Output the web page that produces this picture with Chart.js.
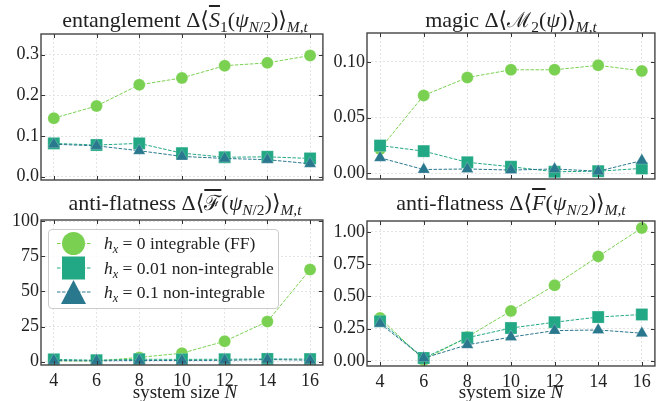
<!DOCTYPE html>
<html>
<head>
<meta charset="utf-8">
<script src="https://cdn.jsdelivr.net/npm/chart.js@4.4.1/dist/chart.umd.min.js"></script>
<style>
  body { margin: 0; background: #fff; }
  #page { position: relative; width: 664px; height: 401px; font-family: 'Liberation Serif', 'DejaVu Serif', serif; color: #222; }
  .panel { position: absolute; }
  .title { position: absolute; font-size: 22px; line-height: 22px; text-align: center; white-space: nowrap; }
  .xlabel { position: absolute; font-size: 19px; line-height: 19px; text-align: center; white-space: nowrap; }
  sub { font-size: 0.7em; vertical-align: -0.3em; line-height: 0; }
  .ov { text-decoration: overline; }
  .sym { font-family: 'DejaVu Serif', serif; font-size: 0.95em; }
  #legend { position: absolute; left: 48px; top: 229px; width: 229px; height: 78px; border: 1px solid #ccc; border-radius: 4px; background: rgba(255,255,255,0.85); }
  #legend svg { position: absolute; left: 0; top: 0; }
  .row { position: absolute; left: 55px; font-size: 17.5px; line-height: 18px; white-space: nowrap; }
</style>
</head>
<body>
<div id="page">
  <div class="panel" style="left:0;top:0;width:332px;height:200px"><canvas id="entanglementChart"></canvas></div>
  <div class="panel" style="left:332px;top:0;width:332px;height:200px"><canvas id="magicChart"></canvas></div>
  <div class="panel" style="left:0;top:200px;width:332px;height:201px"><canvas id="flatnessChart"></canvas></div>
  <div class="panel" style="left:332px;top:200px;width:332px;height:201px"><canvas id="antiFlatnessChart"></canvas></div>

  <div class="title" style="left:41px;width:288px;top:9px">entanglement Δ⟨<span class="ov"><i>S</i></span><sub>1</sub>(<i>ψ</i><sub><i>N</i>/2</sub>)⟩<sub><i>M,t</i></sub></div>
  <div class="title" style="left:367px;width:288px;top:9px">magic Δ⟨<span class="sym">ℳ</span><sub>2</sub>(<i>ψ</i>)⟩<sub><i>M,t</i></sub></div>
  <div class="title" style="left:41px;width:288px;top:192px">anti-flatness Δ⟨<span class="ov sym">ℱ</span>(<i>ψ</i><sub><i>N</i>/2</sub>)⟩<sub><i>M,t</i></sub></div>
  <div class="title" style="left:367px;width:288px;top:192px">anti-flatness Δ⟨<span class="ov"><i>F</i></span>(<i>ψ</i><sub><i>N</i>/2</sub>)⟩<sub><i>M,t</i></sub></div>

  <div class="xlabel" style="left:41px;width:288px;top:382px">system size <i>N</i></div>
  <div class="xlabel" style="left:367px;width:288px;top:382px">system size <i>N</i></div>

  <div id="legend">
    <svg width="50" height="78">
      <line x1="8" y1="13.5" x2="42" y2="13.5" stroke="#7ad151" stroke-width="1" stroke-dasharray="3.5 1.5"/>
      <circle cx="24.5" cy="13.5" r="11.5" fill="#7ad151"/>
      <line x1="8" y1="38" x2="42" y2="38" stroke="#22a884" stroke-width="1" stroke-dasharray="3.5 1.5"/>
      <rect x="13" y="26.5" width="23" height="23" fill="#22a884"/>
      <line x1="8" y1="62" x2="42" y2="62" stroke="#2a788e" stroke-width="1" stroke-dasharray="3.5 1.5"/>
      <polygon points="24.5,50 12,74 37,74" fill="#2a788e"/>
    </svg>
    <div class="row" style="top:4px"><i>h</i><sub><i>x</i></sub> = 0 integrable (FF)</div>
    <div class="row" style="top:29px"><i>h</i><sub><i>x</i></sub> = 0.01 non-integrable</div>
    <div class="row" style="top:53px"><i>h</i><sub><i>x</i></sub> = 0.1 non-integrable</div>
  </div>
</div>
<script>
const systemSizes = [4, 6, 8, 10, 12, 14, 16];
const xTicks = [4, 6, 8, 10, 12, 14, 16];

// entanglement
const entanglementFF = [0.144, 0.174, 0.226, 0.243, 0.273, 0.280, 0.298];
const entanglementWeak = [0.082, 0.078, 0.082, 0.058, 0.048, 0.049, 0.045];
const entanglementStrong = [0.080, 0.076, 0.064, 0.050, 0.045, 0.042, 0.032];
const entanglementTicks = [0, 0.1, 0.2, 0.3];
const entanglementTickLabels = ['0.0', '0.1', '0.2', '0.3'];

// magic
const magicFF = [0.022, 0.070, 0.086, 0.093, 0.093, 0.097, 0.092];
const magicWeak = [0.025, 0.020, 0.010, 0.006, 0.0015, 0.002, 0.0045];
const magicStrong = [0.014, 0.0035, 0.004, 0.003, 0.004, 0.002, 0.0115];
const magicTicks = [0, 0.05, 0.10];
const magicTickLabels = ['0.00', '0.05', '0.10'];

// anti-flatness (script F)
const flatnessFF = [0.5, 0.4, 3.0, 6.0, 14.5, 28.5, 65.5];
const flatnessWeak = [1.6, 1.0, 1.7, 1.6, 1.7, 1.9, 1.8];
const flatnessStrong = [0.8, 0.6, 0.8, 0.8, 0.9, 1.5, 1.0];
const flatnessTicks = [0, 25, 50, 75, 100];
const flatnessTickLabels = ['0', '25', '50', '75', '100'];

// anti-flatness (F)
const antiFlatnessFF = [0.333, 0.008, 0.186, 0.387, 0.586, 0.810, 1.030];
const antiFlatnessWeak = [0.307, 0.023, 0.180, 0.255, 0.300, 0.340, 0.360];
const antiFlatnessStrong = [0.290, 0.022, 0.125, 0.185, 0.235, 0.240, 0.215];
const antiFlatnessTicks = [0, 0.25, 0.5, 0.75, 1.0];
const antiFlatnessTickLabels = ['0.00', '0.25', '0.50', '0.75', '1.00'];

const seriesStyles = [
  { color: '#7ad151', pointStyle: 'circle', radius: 6, order: 3 },
  { color: '#22a884', pointStyle: 'rect', radius: 8.5, order: 2 },
  { color: '#2a788e', pointStyle: 'triangle', radius: 7, order: 1 }
];

const tickFont = { family: "'Liberation Serif', 'DejaVu Serif', serif", size: 18 };

// inward ticks on all four sides + frame
const innerTicks = {
  id: 'innerTicks',
  afterDraw(chart) {
    const { ctx, chartArea: a, scales: { x, y } } = chart;
    ctx.save();
    ctx.strokeStyle = '#333';
    ctx.lineWidth = 1;
    ctx.beginPath();
    x.ticks.forEach(t => {
      const px = Math.round(x.getPixelForValue(t.value)) + 0.5;
      ctx.moveTo(px, a.bottom); ctx.lineTo(px, a.bottom - 4);
      ctx.moveTo(px, a.top); ctx.lineTo(px, a.top + 4);
    });
    y.ticks.forEach(t => {
      const py = Math.round(y.getPixelForValue(t.value)) + 0.5;
      ctx.moveTo(a.left, py); ctx.lineTo(a.left + 4, py);
      ctx.moveTo(a.right, py); ctx.lineTo(a.right - 4, py);
    });
    ctx.stroke();
    ctx.strokeStyle = '#444';
    ctx.lineWidth = 1.4;
    ctx.strokeRect(a.left, a.top, a.width, a.height);
    ctx.restore();
  }
};

function makePanel(id, values, yTicks, yLabels, yMin, yMax, yWidth, xHeight, padding) {
  const datasets = values.map((vals, i) => {
    const s = seriesStyles[i];
    return {
      data: systemSizes.map((n, k) => ({ x: n, y: vals[k] })),
      borderColor: s.color,
      backgroundColor: s.color,
      pointBackgroundColor: s.color,
      pointBorderColor: 'rgba(255,255,255,0.35)',
      pointBorderWidth: 0.6,
      pointStyle: s.pointStyle,
      pointRadius: s.radius,
      pointHoverRadius: s.radius,
      borderWidth: 1,
      borderDash: [3.5, 1.5],
      tension: 0,
      order: s.order
    };
  });
  return new Chart(document.getElementById(id), {
    type: 'line',
    data: { datasets },
    options: {
      responsive: true,
      maintainAspectRatio: false,
      animation: false,
      layout: { padding },
      plugins: { legend: { display: false }, tooltip: { enabled: false } },
      scales: {
        x: {
          type: 'linear',
          min: 3.4,
          max: 16.6,
          afterBuildTicks: scale => { scale.ticks = xTicks.map(v => ({ value: v })); },
          afterFit: scale => { scale.height = xHeight; scale.paddingLeft = 0; scale.paddingRight = 0; },
          ticks: {
            display: xHeight > 0,
            padding: 5,
            color: '#222',
            font: tickFont
          },
          grid: { color: '#e4e4e4', lineWidth: 1, drawTicks: false },
          border: { display: false, dash: [2, 2] }
        },
        y: {
          min: yMin,
          max: yMax,
          afterBuildTicks: scale => { scale.ticks = yTicks.map(v => ({ value: v })); },
          afterFit: scale => { scale.width = yWidth; scale.paddingTop = 0; scale.paddingBottom = 0; },
          ticks: {
            padding: 2,
            color: '#222',
            font: tickFont,
            callback: (value, index) => yLabels[index]
          },
          grid: { color: '#e4e4e4', lineWidth: 1, drawTicks: false },
          border: { display: false, dash: [2, 2] }
        }
      }
    },
    plugins: [innerTicks]
  });
}

makePanel('entanglementChart', [entanglementFF, entanglementWeak, entanglementStrong],
  entanglementTicks, entanglementTickLabels, -0.008, 0.351, 41, 0,
  { top: 34, right: 3, bottom: 20, left: 0 });
makePanel('magicChart', [magicFF, magicWeak, magicStrong],
  magicTicks, magicTickLabels, -0.005, 0.126, 35, 0,
  { top: 33, right: 9, bottom: 21, left: 0 });
makePanel('flatnessChart', [flatnessFF, flatnessWeak, flatnessStrong],
  flatnessTicks, flatnessTickLabels, -2.4, 100.8, 41, 36,
  { top: 20, right: 3, bottom: 0, left: 0 });
makePanel('antiFlatnessChart', [antiFlatnessFF, antiFlatnessWeak, antiFlatnessStrong],
  antiFlatnessTicks, antiFlatnessTickLabels, -0.039, 1.084, 35, 35,
  { top: 21, right: 9, bottom: 0, left: 0 });
</script>
</body>
</html>
